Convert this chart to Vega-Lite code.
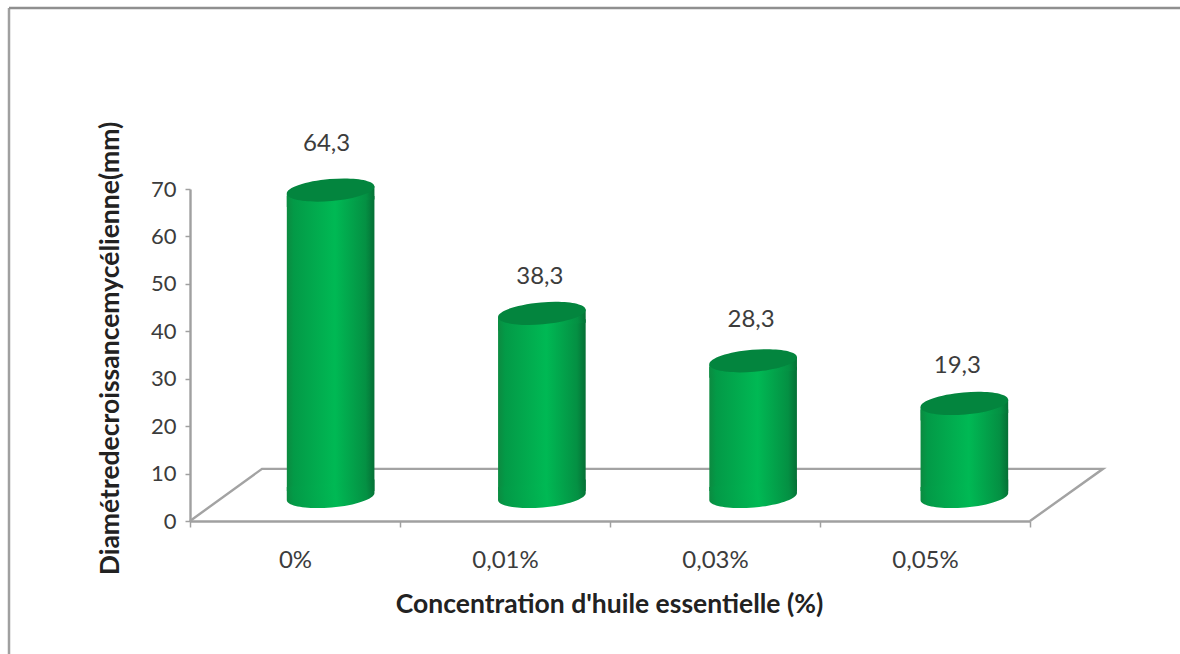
{
  "$schema": "https://vega.github.io/schema/vega-lite/v6.json",
  "autosize": "none",
  "padding": {"left": 9, "top": 8, "right": 0, "bottom": 0},
  "width": 1171,
  "height": 646,
  "background": "#ffffff",
  "config": {"view": {"stroke": null}, "font": "Lato"},
  "datasets": {
    "growth": [
      {"concentration": "0%", "diameter": 64.3, "label": "64,3"},
      {"concentration": "0,01%", "diameter": 38.3, "label": "38,3"},
      {"concentration": "0,03%", "diameter": 28.3, "label": "28,3"},
      {"concentration": "0,05%", "diameter": 19.3, "label": "19,3"}
    ],
    "floor": [
      {"corner": 1, "u": 0, "v": 0},
      {"corner": 2, "u": 72, "v": 11},
      {"corner": 3, "u": 913, "v": 11},
      {"corner": 4, "u": 840, "v": 0}
    ]
  },
  "resolve": {"scale": {"x": "independent"}, "axis": {"x": "independent"}},
  "layer": [
    {
      "data": {"values": [{"edge": "left"}]},
      "mark": {"type": "rule", "color": "#a0a0a0", "strokeWidth": 2.5},
      "encoding": {"x": {"value": 0}, "y": {"value": 0}, "y2": {"value": 646}}
    },
    {
      "data": {"values": [{"edge": "top"}]},
      "mark": {"type": "rule", "color": "#8f8f8f", "strokeWidth": 2.5},
      "encoding": {"y": {"value": 0}, "x": {"value": 0}, "x2": {"value": 1171}}
    },
    {
      "data": {"name": "floor"},
      "mark": {"type": "line", "color": "#a3a3a3", "strokeWidth": 2.4, "interpolate": "linear"},
      "encoding": {
        "x": {"field": "u", "type": "quantitative", "scale": {"domain": [0, 840], "range": [181, 1021], "nice": false, "zero": false}, "axis": null},
        "y": {
          "field": "v",
          "type": "quantitative",
          "scale": {"domain": [0, 70], "range": [513, 181], "nice": false},
          "axis": {
            "values": [0, 10, 20, 30, 40, 50, 60, 70],
            "offset": -181,
            "grid": false,
            "domainColor": "#a0a0a0",
            "domainWidth": 2.4,
            "tickColor": "#a0a0a0",
            "tickWidth": 1.5,
            "tickSize": 5,
            "labelFontSize": 22,
            "labelColor": "#3c3c3c",
            "labelPadding": 9,
            "title": "Diamétredecroissancemycélienne(mm)",
            "titleFontSize": 26.5,
            "titleFontWeight": "bold",
            "titleColor": "#222222",
            "titleX": -66,
            "titleY": 340,
            "titleAnchor": "middle"
          }
        },
        "order": {"field": "corner"}
      }
    },
    {
      "data": {"name": "growth"},
      "mark": {
        "type": "bar",
        "size": 87.6,
        "yOffset": -20,
        "y2Offset": -30,
        "fill": {"gradient": "linear", "x1": 0, "x2": 1, "y1": 0, "y2": 0, "stops": [
          {"offset": 0, "color": "#0c8a40"},
          {"offset": 0.08, "color": "#039a47"},
          {"offset": 0.55, "color": "#00b954"},
          {"offset": 0.9, "color": "#049043"},
          {"offset": 1, "color": "#056f35"}
        ]}
      },
      "encoding": {
        "x": {"field": "concentration", "type": "nominal", "sort": null, "scale": {"type": "band", "range": [216, 1061], "padding": 0}, "axis": null},
        "y": {"field": "diameter", "type": "quantitative", "stack": null},
        "y2": {"datum": 0}
      }
    },
    {
      "data": {"name": "growth"},
      "mark": {
        "type": "point",
        "shape": "M-0.974,-0.3 L1.026,-0.3 L1,0 A1,0.25 0 0,1 -1,0 Z",
        "size": 7744,
        "angle": -5,
        "filled": true,
        "opacity": 1,
        "yOffset": -24.5,
        "fill": {"gradient": "linear", "x1": 0, "x2": 1, "y1": 0, "y2": 0, "stops": [
          {"offset": 0, "color": "#0c8a40"},
          {"offset": 0.08, "color": "#039a47"},
          {"offset": 0.55, "color": "#00b954"},
          {"offset": 0.9, "color": "#049043"},
          {"offset": 1, "color": "#056f35"}
        ]}
      },
      "encoding": {
        "x": {"field": "concentration", "type": "nominal", "sort": null, "scale": {"type": "band", "range": [216, 1061], "padding": 0}, "axis": null},
        "y": {"datum": 0, "type": "quantitative"}
      }
    },
    {
      "data": {"name": "growth"},
      "mark": {
        "type": "point",
        "shape": "M-1,0 L1,0 L0.974,0.3 L-1.026,0.3 Z",
        "size": 7744,
        "angle": -5,
        "filled": true,
        "opacity": 1,
        "yOffset": -26,
        "fill": {"gradient": "linear", "x1": 0, "x2": 1, "y1": 0, "y2": 0, "stops": [
          {"offset": 0, "color": "#0c8a40"},
          {"offset": 0.08, "color": "#039a47"},
          {"offset": 0.55, "color": "#00b954"},
          {"offset": 0.9, "color": "#049043"},
          {"offset": 1, "color": "#056f35"}
        ]}
      },
      "encoding": {
        "x": {"field": "concentration", "type": "nominal", "sort": null, "scale": {"type": "band", "range": [216, 1061], "padding": 0}, "axis": null},
        "y": {"field": "diameter", "type": "quantitative"}
      }
    },
    {
      "data": {"name": "growth"},
      "mark": {
        "type": "point",
        "shape": "M-1,0 A1,0.25 0 1,1 1,0 A1,0.25 0 1,1 -1,0 Z",
        "size": 7744,
        "angle": -5,
        "filled": true,
        "opacity": 1,
        "yOffset": -26,
        "fill": "#03853e"
      },
      "encoding": {
        "x": {"field": "concentration", "type": "nominal", "sort": null, "scale": {"type": "band", "range": [216, 1061], "padding": 0}, "axis": null},
        "y": {"field": "diameter", "type": "quantitative"}
      }
    },
    {
      "data": {"name": "growth"},
      "mark": {"type": "text", "opacity": 0},
      "encoding": {
        "x": {
          "field": "concentration",
          "type": "nominal",
          "sort": null,
          "scale": {"type": "band", "range": [181, 1021], "padding": 0},
          "axis": {
            "orient": "bottom",
            "offset": -133,
            "tickBand": "extent",
            "labelAngle": 0,
            "domainColor": "#a0a0a0",
            "domainWidth": 2.4,
            "tickColor": "#a0a0a0",
            "tickWidth": 1.5,
            "tickSize": 6,
            "labelFontSize": 24,
            "labelColor": "#3c3c3c",
            "labelPadding": 21,
            "title": "Concentration d'huile essentielle (%)",
            "titleFontSize": 26.5,
            "titleFontWeight": "bold",
            "titleColor": "#222222",
            "titleX": 600,
            "titleY": 83,
            "titleAnchor": "middle",
            "titleBaseline": "middle"
          }
        },
        "y": {"field": "diameter", "type": "quantitative"},
        "text": {"field": "label"}
      }
    },
    {
      "data": {"name": "growth"},
      "transform": [{"filter": "datum.concentration === '0%'"}],
      "mark": {"type": "text", "fontSize": 24, "color": "#3c3c3c", "dy": -72, "dx": -4},
      "encoding": {
        "x": {"field": "concentration", "type": "nominal", "scale": {"type": "band", "domain": ["0%", "0,01%", "0,03%", "0,05%"], "range": [216, 1061], "padding": 0}, "axis": null},
        "y": {"field": "diameter", "type": "quantitative"},
        "text": {"field": "label"}
      }
    },
    {
      "data": {"name": "growth"},
      "transform": [{"filter": "datum.concentration === '0,01%'"}],
      "mark": {"type": "text", "fontSize": 24, "color": "#3c3c3c", "dy": -62, "dx": -2},
      "encoding": {
        "x": {"field": "concentration", "type": "nominal", "scale": {"type": "band", "domain": ["0%", "0,01%", "0,03%", "0,05%"], "range": [216, 1061], "padding": 0}, "axis": null},
        "y": {"field": "diameter", "type": "quantitative"},
        "text": {"field": "label"}
      }
    },
    {
      "data": {"name": "growth"},
      "transform": [{"filter": "datum.concentration === '0,03%'"}],
      "mark": {"type": "text", "fontSize": 24, "color": "#3c3c3c", "dy": -67, "dx": -2},
      "encoding": {
        "x": {"field": "concentration", "type": "nominal", "scale": {"type": "band", "domain": ["0%", "0,01%", "0,03%", "0,05%"], "range": [216, 1061], "padding": 0}, "axis": null},
        "y": {"field": "diameter", "type": "quantitative"},
        "text": {"field": "label"}
      }
    },
    {
      "data": {"name": "growth"},
      "transform": [{"filter": "datum.concentration === '0,05%'"}],
      "mark": {"type": "text", "fontSize": 24, "color": "#3c3c3c", "dy": -63, "dx": -7},
      "encoding": {
        "x": {"field": "concentration", "type": "nominal", "scale": {"type": "band", "domain": ["0%", "0,01%", "0,03%", "0,05%"], "range": [216, 1061], "padding": 0}, "axis": null},
        "y": {"field": "diameter", "type": "quantitative"},
        "text": {"field": "label"}
      }
    }
  ]
}
